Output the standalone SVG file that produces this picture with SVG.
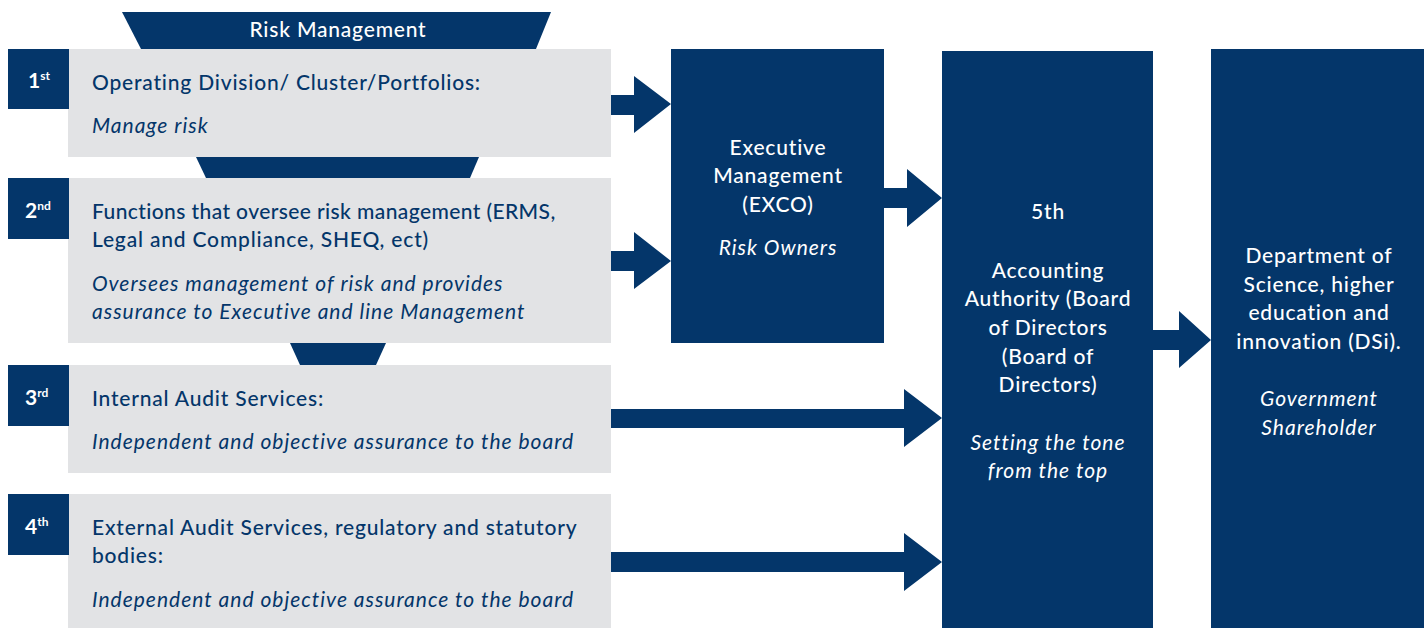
<svg xmlns="http://www.w3.org/2000/svg" width="1427" height="628" viewBox="0 0 1427 628">
<style>
.dk{fill:#04366a}
.gr{fill:#e2e3e5}
.t{font-family:Lato,"Liberation Sans",sans-serif;font-size:21px;fill:#04366a;font-weight:500;letter-spacing:0.8px}
.i{font-family:Lato,"Liberation Sans",sans-serif;font-size:21px;fill:#04366a;font-style:italic;letter-spacing:1px}
.w{font-family:Lato,"Liberation Sans",sans-serif;font-size:21px;fill:#ffffff;font-weight:500;text-anchor:middle;letter-spacing:0.8px}
.wi{font-family:Lato,"Liberation Sans",sans-serif;font-size:21px;fill:#ffffff;font-style:italic;text-anchor:middle;letter-spacing:1px}
.n{font-family:Lato,"Liberation Sans",sans-serif;font-size:21px;fill:#ffffff;font-weight:700}
.s{font-size:12px}
</style>
<rect width="1427" height="628" fill="#ffffff"/>
<g id="risk-management">
<polygon class="dk" points="122,12 551,12 536,49 141,49"/>
<text class="w" x="338" y="37">Risk Management</text>
</g>
<polygon class="dk" points="196,157 479,157 470,178 206,178"/>
<polygon class="dk" points="290,343 386,343 376,365 300,365"/>
<g id="line1">
<rect class="gr" x="68" y="49" width="543" height="108"/>
<rect class="dk" x="8" y="49" width="61" height="60"/>
<text class="n" x="28" y="88">1<tspan class="s" dy="-8">st</tspan></text>
<text class="t" x="92" y="90">Operating Division/ Cluster/Portfolios:</text>
<text class="i" x="92" y="133">Manage risk</text>
</g>
<g id="line2">
<rect class="gr" x="68" y="178" width="543" height="165"/>
<rect class="dk" x="8" y="178" width="61" height="61"/>
<text class="n" x="25" y="218">2<tspan class="s" dy="-8">nd</tspan></text>
<text class="t" x="92" y="219" textLength="464">Functions that oversee risk management (ERMS,</text>
<text class="t" x="92" y="247" textLength="337">Legal and Compliance, SHEQ, ect)</text>
<text class="i" x="92" y="291">Oversees management of risk and provides</text>
<text class="i" x="92" y="319">assurance to Executive and line Management</text>
</g>
<g id="line3">
<rect class="gr" x="68" y="365" width="543" height="108"/>
<rect class="dk" x="8" y="365" width="61" height="61"/>
<text class="n" x="25" y="405">3<tspan class="s" dy="-8">rd</tspan></text>
<text class="t" x="92" y="406">Internal Audit Services:</text>
<text class="i" x="92" y="449">Independent and objective assurance to the board</text>
</g>
<g id="line4">
<rect class="gr" x="68" y="494" width="543" height="134"/>
<rect class="dk" x="8" y="494" width="61" height="61"/>
<text class="n" x="25" y="534">4<tspan class="s" dy="-8">th</tspan></text>
<text class="t" x="92" y="535">External Audit Services, regulatory and statutory</text>
<text class="t" x="92" y="563">bodies:</text>
<text class="i" x="92" y="607">Independent and objective assurance to the board</text>
</g>
<g id="exco">
<rect class="dk" x="671" y="49" width="213" height="294"/>
<text class="w" x="778" y="155">Executive</text>
<text class="w" x="778" y="183">Management</text>
<text class="w" x="778" y="212">(EXCO)</text>
<text class="wi" x="778" y="255">Risk Owners</text>
</g>
<g id="board">
<rect class="dk" x="942" y="51" width="211" height="577"/>
<text class="w" x="1048" y="219">5th</text>
<text class="w" x="1048" y="278">Accounting</text>
<text class="w" x="1048" y="306">Authority (Board</text>
<text class="w" x="1048" y="335">of Directors</text>
<text class="w" x="1048" y="364">(Board of</text>
<text class="w" x="1048" y="392">Directors)</text>
<text class="wi" x="1048" y="450">Setting the tone</text>
<text class="wi" x="1048" y="478">from the top</text>
</g>
<g id="dsi">
<rect class="dk" x="1211" y="49" width="213" height="579"/>
<text class="w" x="1319" y="263">Department of</text>
<text class="w" x="1319" y="292">Science, higher</text>
<text class="w" x="1319" y="320">education and</text>
<text class="w" x="1319" y="349">innovation (DSi).</text>
<text class="wi" x="1319" y="406">Government</text>
<text class="wi" x="1319" y="435">Shareholder</text>
</g>
<g id="connectors" class="dk">
<polygon points="611,95 634,95 634,76 671,104 634,133 634,115 611,115"/>
<polygon points="611,251 634,251 634,232 671,261 634,289 634,271 611,271"/>
<polygon points="884,188 907,188 907,169 942,198 907,227 907,208 884,208"/>
<polygon points="1153,330 1179,330 1179,311 1211,340 1179,368 1179,350 1153,350"/>
<polygon points="611,409 904,409 904,389 942,418 904,447 904,428 611,428"/>
<polygon points="611,552 904,552 904,533 942,562 904,591 904,572 611,572"/>
</g>
</svg>
